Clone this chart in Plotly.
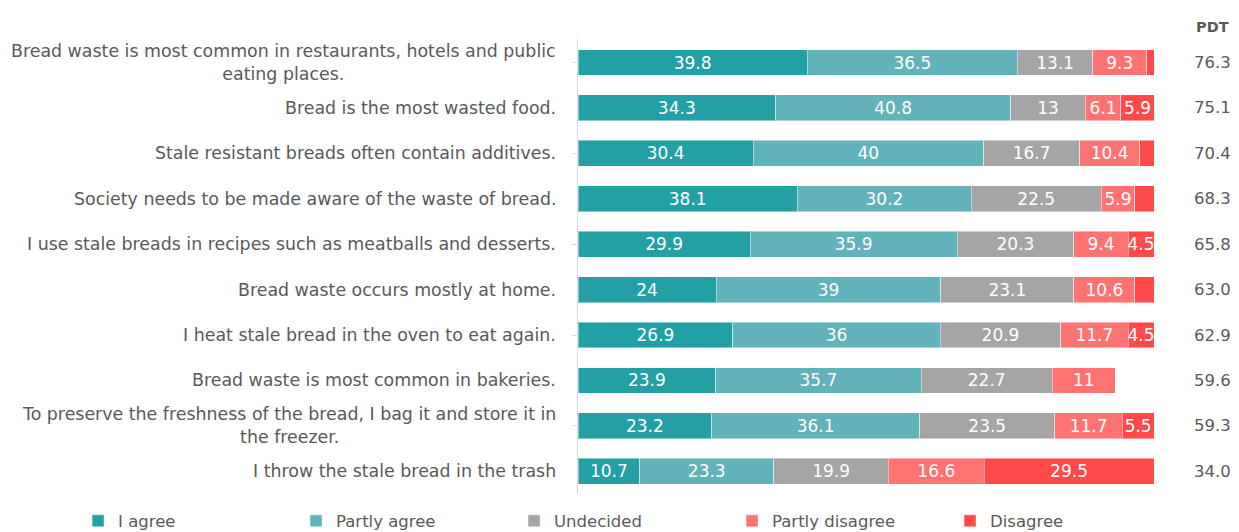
import plotly.graph_objects as go

statements = [
    "Bread waste is most common in restaurants, hotels and public<br>eating places.",
    "Bread is the most wasted food.",
    "Stale resistant breads often contain additives.",
    "Society needs to be made aware of the waste of bread.",
    "I use stale breads in recipes such as meatballs and desserts.",
    "Bread waste occurs mostly at home.",
    "I heat stale bread in the oven to eat again.",
    "Bread waste is most common in bakeries.",
    "To preserve the freshness of the bread, I bag it and store it in<br>the freezer.",
    "I throw the stale bread in the trash",
]
agree = [39.8, 34.3, 30.4, 38.1, 29.9, 24, 26.9, 23.9, 23.2, 10.7]
partly_agree = [36.5, 40.8, 40, 30.2, 35.9, 39, 36, 35.7, 36.1, 23.3]
undecided = [13.1, 13, 16.7, 22.5, 20.3, 23.1, 20.9, 22.7, 23.5, 19.9]
partly_disagree = [9.3, 6.1, 10.4, 5.9, 9.4, 10.6, 11.7, 11, 11.7, 16.6]
disagree = [1.3, 5.9, 2.5, 3.3, 4.5, 3.3, 4.5, 0, 5.5, 29.5]
pdt = ["76.3", "75.1", "70.4", "68.3", "65.8", "63.0", "62.9", "59.6", "59.3", "34.0"]

series = [
    ("I agree", agree, "#23A0A3"),
    ("Partly agree", partly_agree, "#62B2BA"),
    ("Undecided", undecided, "#A5A5A5"),
    ("Partly disagree", partly_disagree, "#FF7373"),
    ("Disagree", disagree, "#FF4A4A"),
]

FONT = "DejaVu Sans"
cats = list(range(len(statements)))
fig = go.Figure()
for name, vals, col in series:
    txt = [(f"{v:g}" if v >= 4 else "") for v in vals]
    fig.add_trace(go.Bar(
        y=cats, x=vals, name=name, orientation="h",
        marker=dict(color=col, line=dict(color="rgba(255,255,255,0.45)", width=1)),
        text=txt, textposition="inside", insidetextanchor="middle",
        textangle=0, constraintext="none",
        textfont=dict(color="white", size=17, family=FONT),
        hoverinfo="skip",
    ))

for i, s in enumerate(statements):
    fig.add_annotation(x=0, xref="paper", y=i, yref="y", text=s, showarrow=False,
                       xanchor="right", xshift=-20, align="center",
                       font=dict(size=17.4, color="#595959", family=FONT))
    fig.add_annotation(x=1.1024, xref="paper", y=i, yref="y", text=pdt[i], showarrow=False,
                       xanchor="center",
                       font=dict(size=16.5, color="#595959", family=FONT))

fig.add_annotation(x=1.1024, xref="paper", y=1.026, yref="paper", yanchor="middle",
                   xanchor="center",
                   text="<b>PDT</b>", showarrow=False,
                   font=dict(size=14.5, color="#595959", family=FONT))

fig.update_layout(
    width=1239, height=532,
    barmode="stack", bargap=0.43,
    uniformtext=dict(mode="show", minsize=17),
    margin=dict(l=578, r=85, t=39, b=38, autoexpand=False),
    plot_bgcolor="white", paper_bgcolor="white",
    font=dict(family=FONT, color="#595959"),
    xaxis=dict(range=[0, 100], visible=False),
    yaxis=dict(autorange="reversed", showticklabels=False, showline=True,
               linecolor="#D9D9D9", ticks="outside", tickson="boundaries",
               ticklen=5, tickcolor="#D9D9D9", showgrid=False, zeroline=False),
    legend=dict(orientation="h", x=-0.868, xanchor="left", y=-0.0595, yanchor="middle",
                entrywidth=173, font=dict(size=16.5, color="#595959", family=FONT),
                traceorder="normal"),
)

fig.write_html("out.html")
